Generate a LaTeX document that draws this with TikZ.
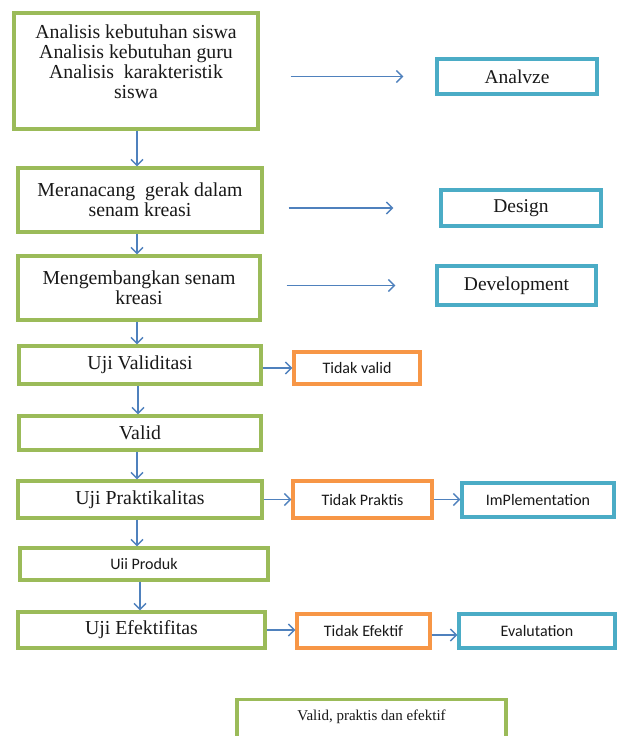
\documentclass[tikz,border=0pt]{standalone}
\usepackage{fontspec}
\setmainfont{Liberation Serif}
\newfontfamily\sansf{Carlito}
\usetikzlibrary{arrows.meta}
\definecolor{gbox}{RGB}{155,187,89}
\definecolor{tbox}{RGB}{75,172,198}
\definecolor{obox}{RGB}{247,150,70}
\definecolor{arrblue}{RGB}{79,129,189}
\tikzset{
  base/.style={draw, line width=3.2pt, fill=white, inner sep=0pt, align=center, text=black!90},
  greenbox/.style={base, draw=gbox, font=\fontsize{19.8}{20}\selectfont},
  tealbox/.style={base, draw=tbox, font=\fontsize{19.5}{20}\selectfont},
  tealsans/.style={base, draw=tbox, font=\sansf\fontsize{16}{18}\selectfont},
  orangebox/.style={base, draw=obox, font=\sansf\fontsize{16}{18}\selectfont},
  arr/.style={draw=arrblue, line width=1.4pt, -{Straight Barb[length=6pt,width=12pt,line width=1.4pt]}},
  bx/.style 2 args={minimum width=#1pt, minimum height=#2pt}
}
\begin{document}
\begin{tikzpicture}[x=1pt,y=-1pt]
\useasboundingbox[fill=white] (0,0) rectangle (616,736);
% left column
\node[greenbox, bx={244}{116}] (a1) at (136,71) {Analisis kebutuhan siswa\\Analisis kebutuhan guru\\Analisis\ \ karakteristik\\siswa\\[-2pt]};
\node[greenbox, bx={244}{64}] (a2) at (140,200) {Meranacang\ \ gerak dalam\\senam kreasi};
\node[greenbox, bx={242}{64}] (a3) at (139,288) {Mengembangkan senam\\kreasi};
\node[greenbox, bx={242}{38}] (a4) at (140,365) {Uji Validitasi};
\node[greenbox, bx={242}{34}] (a5) at (140,433) {Valid};
\node[greenbox, bx={244}{37}] (a6) at (140,499.5) {Uji Praktikalitas};
\node[greenbox, bx={248}{32}, font=\sansf\fontsize{16}{18}\selectfont] (a7) at (144,564) {Uii Produk};
\node[greenbox, bx={247}{36}] (a8) at (141.5,630) {Uji Efektifitas};
% right column
\node[tealbox, bx={160}{35}] (an) at (517,76.5) {Analvze};
\node[tealbox, bx={160}{36}] (de) at (521,208) {Design};
\node[tealbox, bx={159}{39}] (dv) at (516.5,285.5) {Development};
\node[orangebox, bx={126}{32}] (tv) at (357,368) {\raisebox{-3pt}{Tidak valid}};
\node[orangebox, bx={139}{37}] (tp) at (362.5,499.5) {Tidak Praktis};
\node[tealsans, bx={152}{34}] (im) at (538,500) {ImPlementation};
\node[orangebox, bx={133}{34}] (te) at (363.5,631) {\raisebox{-3pt}{Tidak Efektif}};
\node[tealsans, bx={156}{34}] (ev) at (537,631) {\raisebox{-3pt}{Evalutation}};
% final box (cut by page edge)
\node[base, draw=gbox, minimum width=269pt, text height=21pt, text depth=26pt, font=\fontsize{15}{17}\selectfont] (fin) at (371.5,698) [anchor=north] {Valid, praktis dan efektif};
% vertical arrows
\draw[arr] ([xshift=1pt]a1.south) -- ([xshift=1pt]a1.south |- a2.north);
\draw[arr] ([xshift=-3pt]a2.south) -- ([xshift=-3pt]a2.south |- a3.north);
\draw[arr] ([xshift=-2pt]a3.south) -- ([xshift=-2pt]a3.south |- a4.north);
\draw[arr] ([xshift=-2pt]a4.south) -- ([xshift=-2pt]a4.south |- a5.north);
\draw[arr] ([xshift=-3pt]a5.south) -- ([xshift=-3pt]a5.south |- a6.north);
\draw[arr] ([xshift=-3pt]a6.south) -- ([xshift=-3pt]a6.south |- a7.north);
\draw[arr] ([xshift=-4pt]a7.south) -- ([xshift=-4pt]a7.south |- a8.north);
% horizontal arrows
\draw[arr, shorten <=31pt, shorten >=32pt] (a1.east |- an.west) -- (an.west);
\draw[arr, shorten <=25pt, shorten >=46pt] (a2.east |- de.west) -- (de.west);
\draw[arr, shorten <=25pt, shorten >=40pt] (a3.east |- dv.west) -- (dv.west);
\draw[arr] (a4.east |- tv.west) -- (tv.west);
\draw[arr] (a6.east) -- (tp.west);
\draw[arr] (tp.east) -- (im.west |- tp.east);
\draw[arr] (a8.east) -- (te.west |- a8.east);
\draw[arr] ([yshift=-4pt]te.east) -- ([yshift=-4pt]ev.west);
\end{tikzpicture}
\end{document}
